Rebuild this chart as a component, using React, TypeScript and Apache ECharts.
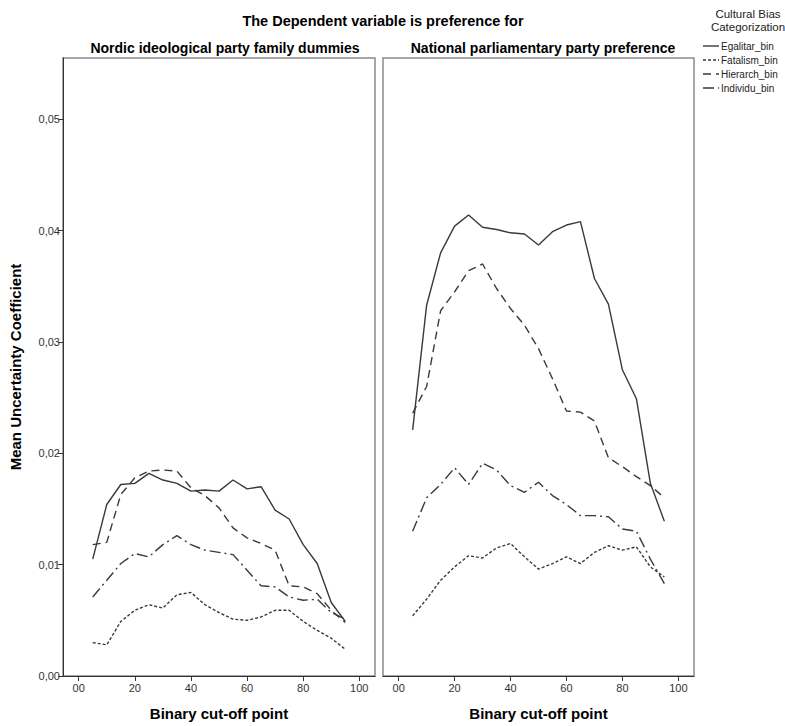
import React, { useEffect, useRef } from "react";
import * as echarts from "echarts";

// Binary cut-off points (x positions shared by every line)
const cutoffs = [5, 10, 15, 20, 25, 30, 35, 40, 45, 50, 55, 60, 65, 70, 75, 80, 85, 90, 95];

// Nordic ideological party family dummies
const nordicEgalitar = [0.0105, 0.0154, 0.0172, 0.0173, 0.0182, 0.0176, 0.0173, 0.0166, 0.0167, 0.0166, 0.0176, 0.0168, 0.017, 0.0149, 0.0141, 0.0118, 0.0101, 0.0066, 0.0049];
const nordicFatalism = [0.003, 0.0028, 0.0049, 0.0059, 0.0064, 0.0061, 0.0073, 0.0075, 0.0064, 0.0057, 0.0051, 0.005, 0.0053, 0.0059, 0.0059, 0.0049, 0.0041, 0.0034, 0.0024];
const nordicHierarch = [0.0118, 0.012, 0.0163, 0.0178, 0.0184, 0.0185, 0.0184, 0.0169, 0.0162, 0.0151, 0.0133, 0.0124, 0.0119, 0.0113, 0.0081, 0.008, 0.0074, 0.0059, 0.0048];
const nordicIndividu = [0.0071, 0.0086, 0.0101, 0.011, 0.0107, 0.0118, 0.0126, 0.0118, 0.0113, 0.0111, 0.0109, 0.0095, 0.0081, 0.008, 0.0071, 0.0068, 0.0069, 0.0057, 0.0051];

// National parliamentary party preference
const nationalEgalitar = [0.0221, 0.0333, 0.038, 0.0404, 0.0414, 0.0403, 0.0401, 0.0398, 0.0397, 0.0387, 0.0399, 0.0405, 0.0408, 0.0357, 0.0334, 0.0275, 0.0249, 0.0173, 0.0139];
const nationalFatalism = [0.0054, 0.0069, 0.0086, 0.0098, 0.0108, 0.0106, 0.0115, 0.0119, 0.0107, 0.0096, 0.0101, 0.0107, 0.0101, 0.0111, 0.0117, 0.0113, 0.0116, 0.0098, 0.0089];
const nationalHierarch = [0.0236, 0.026, 0.0328, 0.0345, 0.0364, 0.037, 0.0348, 0.033, 0.0315, 0.0294, 0.0267, 0.0238, 0.0237, 0.0229, 0.0196, 0.0188, 0.0179, 0.0171, 0.016];
const nationalIndividu = [0.013, 0.016, 0.0172, 0.0187, 0.0172, 0.0191, 0.0185, 0.0171, 0.0165, 0.0174, 0.0162, 0.0154, 0.0144, 0.0144, 0.0143, 0.0132, 0.013, 0.0105, 0.0083];

const xTicks = [0, 20, 40, 60, 80, 100];
const yTicks = [0, 0.01, 0.02, 0.03, 0.04, 0.05];

const seriesNames = ["Egalitar_bin", "Fatalism_bin", "Hierarch_bin", "Individu_bin"];
const panelTitles = ["Nordic ideological party family dummies", "National parliamentary party preference"];

const FONT = "'Liberation Sans', Arial, sans-serif";
const LINE_COLOR = "#3a3a3a";

const dashFor: Record<string, any> = {
  Egalitar_bin: "solid",
  Fatalism_bin: [3, 2],
  Hierarch_bin: [8, 5],
  Individu_bin: [11, 4, 2, 4],
};

function pairs(vals: number[]) {
  return cutoffs.map((c, i) => [c, vals[i]]);
}

export default function App() {
  const ref = useRef<HTMLDivElement>(null);

  useEffect(() => {
    if (!ref.current) return;
    const chart = echarts.init(ref.current, undefined, { renderer: "svg" });

    const panels = [
      [nordicEgalitar, nordicFatalism, nordicHierarch, nordicIndividu],
      [nationalEgalitar, nationalFatalism, nationalHierarch, nationalIndividu],
    ];

    const series: any[] = [];
    panels.forEach((panel, p) => {
      panel.forEach((vals, k) => {
        const name = seriesNames[k];
        series.push({
          type: "line",
          name,
          xAxisIndex: p,
          yAxisIndex: p,
          data: pairs(vals),
          symbol: "none",
          showSymbol: false,
          lineStyle: { color: LINE_COLOR, width: 1.4, type: dashFor[name] },
          itemStyle: { color: LINE_COLOR },
          z: 3,
        });
      });
    });

    const gridDefs = [
      { left: 63, top: 58, width: 312, height: 621 },
      { left: 383, top: 58, width: 311, height: 621 },
    ];

    const xAxes = gridDefs.map((_, i) => ({
      type: "value",
      gridIndex: i,
      min: -5.6,
      max: 105.6,
      name: "Binary cut-off point",
      nameLocation: "middle",
      nameGap: 30,
      nameTextStyle: { fontFamily: FONT, fontSize: 15, fontWeight: "bold", color: "#000" },
      axisLine: { show: true, onZero: false, lineStyle: { color: "#333", width: 1 } },
      axisTick: { show: true, length: 5, lineStyle: { color: "#333" }, customValues: xTicks },
      axisLabel: {
        show: true,
        fontFamily: FONT,
        fontSize: 11,
        color: "#333",
        margin: 6,
        customValues: xTicks,
        formatter: (v: number) => (v === 0 ? "00" : String(v)),
      },
      splitLine: { show: false },
    }));

    const yAxes = gridDefs.map((_, i) => ({
      type: "value",
      gridIndex: i,
      min: 0,
      max: 0.0555,
      name: i === 0 ? "Mean Uncertainty Coefficient" : "",
      nameLocation: "middle",
      nameGap: 40,
      nameTextStyle: { fontFamily: FONT, fontSize: 15, fontWeight: "bold", color: "#000" },
      axisLine: { show: i === 0, onZero: false, lineStyle: { color: "#333", width: 1 } },
      axisTick: { show: i === 0, length: 5, lineStyle: { color: "#333" }, customValues: yTicks },
      axisLabel: {
        show: i === 0,
        fontFamily: FONT,
        fontSize: 11,
        color: "#333",
        margin: 3,
        customValues: yTicks,
        formatter: (v: number) => v.toFixed(2).replace(".", ","),
      },
      splitLine: { show: false },
    }));

    // Legend samples: a short line in each series' dash style plus its name
    const legendRows = [46, 60, 74, 88];
    const legendGraphics: any[] = [];
    seriesNames.forEach((name, k) => {
      const y = legendRows[k];
      legendGraphics.push({
        type: "line",
        shape: { x1: 703, y1: y, x2: 719, y2: y },
        style: { stroke: LINE_COLOR, lineWidth: 1.4, lineDash: dashFor[name] === "solid" ? null : dashFor[name] },
      });
      legendGraphics.push({
        type: "text",
        x: 721,
        y,
        style: {
          text: name,
          fontFamily: FONT,
          fontSize: 10,
          fill: "#222",
          textVerticalAlign: "middle",
          verticalAlign: "middle",
        },
      });
    });

    chart.setOption({
      animation: false,
      backgroundColor: "#fff",
      title: [
        {
          text: "The Dependent variable is preference for",
          left: 378,
          textAlign: "center",
          top: 8,
          textStyle: { fontFamily: FONT, fontSize: 14.5, fontWeight: "bold", color: "#000" },
        },
        {
          text: panelTitles[0],
          left: 220,
          textAlign: "center",
          top: 36,
          textStyle: { fontFamily: FONT, fontSize: 14, fontWeight: "bold", color: "#000" },
        },
        {
          text: panelTitles[1],
          left: 538,
          textAlign: "center",
          top: 36,
          textStyle: { fontFamily: FONT, fontSize: 14, fontWeight: "bold", color: "#000" },
        },
        {
          text: "Cultural Bias\nCategorization",
          left: 743,
          textAlign: "center",
          top: 2,
          textStyle: { fontFamily: FONT, fontSize: 11.5, fontWeight: "normal", color: "#222", lineHeight: 13 },
        },
      ],
      graphic: legendGraphics,
      grid: gridDefs.map((g) => ({
        ...g,
        show: true,
        borderColor: "#8a8a8a",
        borderWidth: 1.5,
        backgroundColor: "transparent",
        containLabel: false,
      })),
      xAxis: xAxes,
      yAxis: yAxes,
      series,
    });

    return () => chart.dispose();
  }, []);

  return (
    <div
      ref={ref}
      style={{ position: "fixed", left: 0, top: 0, width: 785, height: 726, background: "#fff" }}
    />
  );
}
